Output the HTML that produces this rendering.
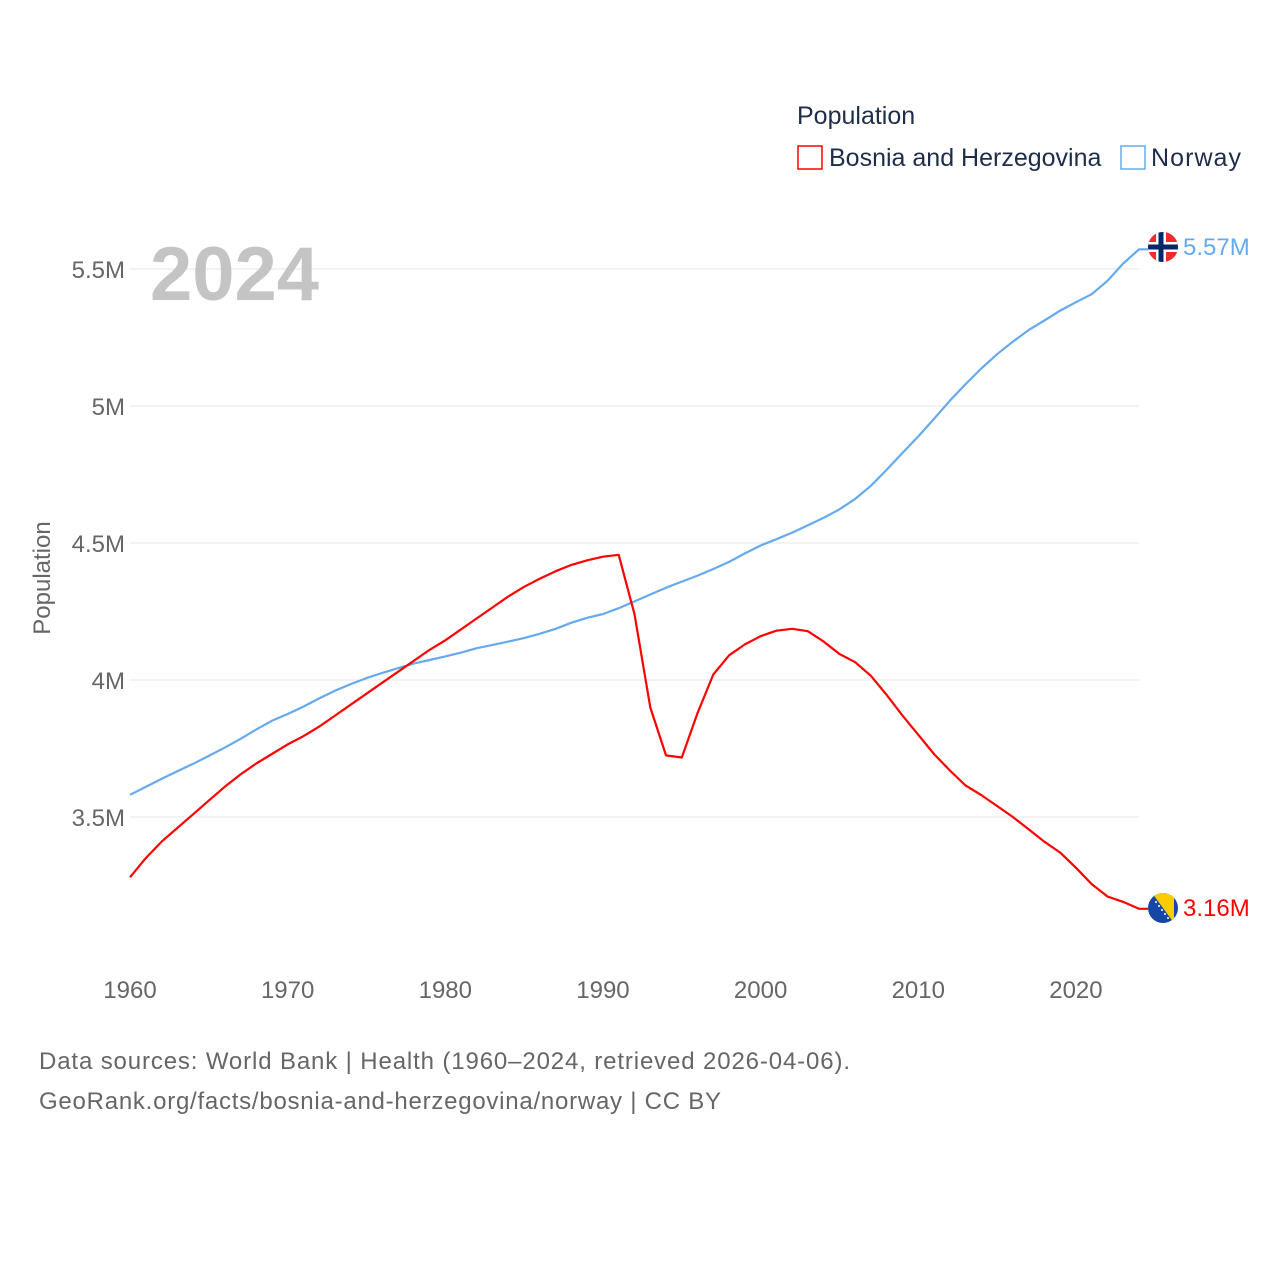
<!DOCTYPE html>
<html><head><meta charset="utf-8"><style>
body{margin:0;background:#fff;font-family:"Liberation Sans",sans-serif;}
svg text{font-family:"Liberation Sans",sans-serif;}
</style></head><body>
<svg id="chart" width="1280" height="1280" xmlns="http://www.w3.org/2000/svg">
<defs>
<clipPath id="cn"><circle cx="1163" cy="247" r="15"/></clipPath>
<clipPath id="cb"><circle cx="1163" cy="908" r="15"/></clipPath>
</defs>
<g id="grid"></g>
<g id="yticks"></g>
<g id="xticks"></g>
<text x="150" y="300" font-size="76" font-weight="bold" fill="#c4c4c4">2024</text>
<text transform="translate(50,578) rotate(-90)" text-anchor="middle" font-size="24" fill="#666">Population</text>
<text x="797" y="124" font-size="25" fill="#1d2e4a">Population</text>
<g><rect x="798" y="146" width="24" height="23" fill="none" stroke="#ff0000" stroke-width="1.5"/><text x="829" y="166" font-size="25" fill="#1d2e4a">Bosnia and Herzegovina</text></g>
<g><rect x="1121" y="146" width="24" height="23" fill="none" stroke="#66aaee" stroke-width="1.5"/><text x="1151" y="166" font-size="25" fill="#1d2e4a" textLength="90">Norway</text></g>
<g id="series"></g>
<g clip-path="url(#cn)"><rect x="1148" y="232" width="30" height="30" fill="#ef2b2d"/><rect x="1148" y="242" width="30" height="10" fill="#fff"/><rect x="1156" y="232" width="10" height="30" fill="#fff"/><rect x="1148" y="244.5" width="30" height="5" fill="#002868"/><rect x="1158.5" y="232" width="5" height="30" fill="#002868"/></g>
<g clip-path="url(#cb)"><rect x="1148" y="893" width="30" height="30" fill="#1747a6"/><polygon points="1152,893 1174,893 1174,923" fill="#fecb00"/><circle cx="1156" cy="902" r="1" fill="#fff"/><circle cx="1159" cy="906" r="1" fill="#fff"/><circle cx="1162" cy="910" r="1" fill="#fff"/><circle cx="1165" cy="914" r="1" fill="#fff"/><circle cx="1168" cy="918" r="1" fill="#fff"/></g>
<text x="1183" y="255" font-size="24" fill="#66aaee">5.57M</text>
<text x="1183" y="916" font-size="24" fill="#ff0000">3.16M</text>
<text x="39" y="1069" font-size="24" fill="#666" textLength="811">Data sources: World Bank | Health (1960–2024, retrieved 2026-04-06).</text>
<text x="39" y="1109" font-size="24" fill="#666" textLength="682">GeoRank.org/facts/bosnia-and-herzegovina/norway | CC BY</text>
</svg>
<script>
const years = Array.from({length:65},(_,i)=>1960+i);
const bosnia = [3.28,3.35,3.41,3.46,3.51,3.56,3.61,3.655,3.695,3.73,3.765,3.795,3.83,3.87,3.91,3.95,3.99,4.03,4.07,4.11,4.145,4.185,4.225,4.265,4.305,4.34,4.37,4.397,4.42,4.437,4.45,4.457,4.24,3.9,3.725,3.717,3.88,4.02,4.09,4.13,4.16,4.18,4.187,4.178,4.14,4.095,4.065,4.015,3.945,3.87,3.8,3.73,3.67,3.615,3.58,3.54,3.5,3.455,3.41,3.37,3.315,3.255,3.21,3.19,3.165];
const norway = [3.581,3.61,3.639,3.667,3.694,3.723,3.753,3.785,3.819,3.851,3.876,3.903,3.933,3.961,3.985,4.007,4.026,4.043,4.06,4.073,4.086,4.1,4.116,4.128,4.14,4.153,4.169,4.187,4.209,4.227,4.241,4.262,4.287,4.312,4.337,4.359,4.381,4.405,4.431,4.462,4.491,4.514,4.538,4.565,4.592,4.623,4.661,4.709,4.768,4.829,4.889,4.953,5.019,5.08,5.137,5.189,5.235,5.277,5.312,5.348,5.379,5.408,5.457,5.52,5.572];
const yTicks = [3.5,4,4.5,5,5.5];
const yTickLabels = ["3.5M","4M","4.5M","5M","5.5M"];
const xTicks = [1960,1970,1980,1990,2000,2010,2020];
const NS="http://www.w3.org/2000/svg";
const X = y => 130 + (y-1960)*(1139-130)/64;
const Y = v => 817 - (v-3.5)*274;
function mk(tag, attrs, parent){const e=document.createElementNS(NS,tag);for(const k in attrs)e.setAttribute(k,attrs[k]);parent.appendChild(e);return e;}
const grid=document.getElementById('grid'), yt=document.getElementById('yticks'), xt=document.getElementById('xticks'), ser=document.getElementById('series');
yTicks.forEach((v,i)=>{
  const l=mk('line',{x1:130,x2:1139,y1:Y(v),y2:Y(v),stroke:'#e6e6e6','stroke-width':1},grid);
  
  
  const t=mk('text',{x:125,y:Y(v)+9,'text-anchor':'end','font-size':24,fill:'#666'},yt);
  t.textContent=yTickLabels[i];
  
  
});
xTicks.forEach(yr=>{
  const t=mk('text',{x:X(yr),y:998,'text-anchor':'middle','font-size':24,fill:'#666'},xt);
  t.textContent=yr;
  
  
});
function line(vals,color,name){
  let d=vals.map((v,i)=>(i?'L':'M')+X(years[i]).toFixed(1)+','+Y(v).toFixed(1)).join('');
  d+='L'+(X(2024)+9)+','+Y(vals[vals.length-1]).toFixed(1);
  const p=mk('path',{d:d,fill:'none',stroke:color,'stroke-width':2.2,'stroke-linejoin':'round'},ser);
  
  
}
line(norway,'#66aaee','norway-line');
line(bosnia,'#ff0000','bosnia-line');
</script>
</body></html>
